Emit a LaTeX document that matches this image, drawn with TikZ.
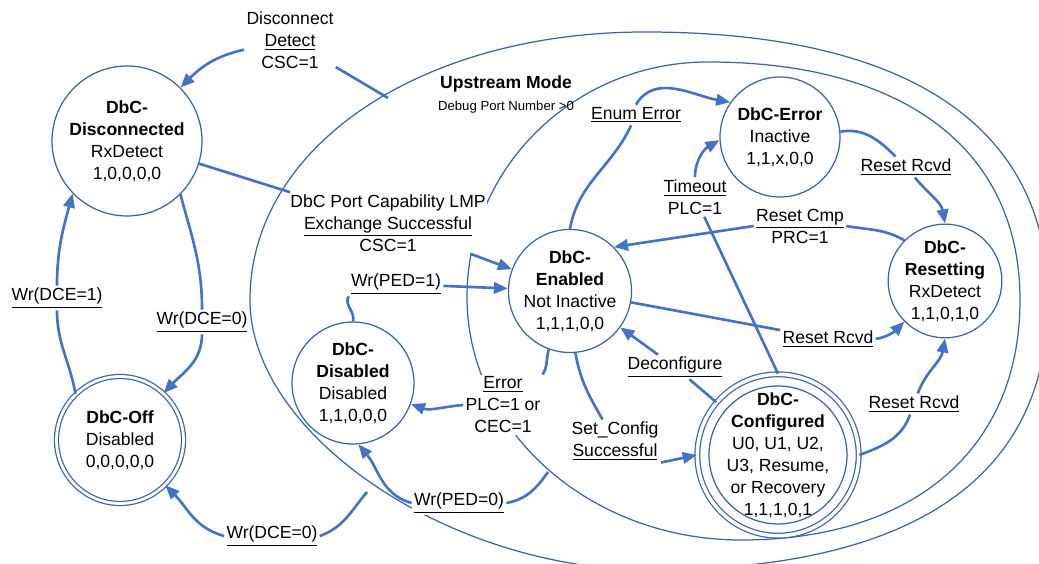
\documentclass[tikz,border=0pt]{standalone}
\usepackage{fontspec}
\setmainfont{Liberation Sans}
\usetikzlibrary{arrows.meta}
\definecolor{cline}{HTML}{3A65A5}
\definecolor{carrow}{HTML}{4472C4}
\tikzset{
  every picture/.style={line width=0.7pt},
  state/.style={circle, draw=cline, fill=white, align=center, inner sep=0pt, minimum size=#1},
  link/.style={draw=carrow, line width=1.5pt},
  arrow/.style={link, -{Triangle[length=8pt, width=6.5pt]}},
  lbl/.style={fill=white, inner sep=1pt, align=center},
}

\begin{document}
\begin{tikzpicture}[x=0.02cm, y=0.02cm,
  every node/.append style={font=\fontsize{10}{12.5}\selectfont},
  region/.style={draw=cline, line width=0.7pt}]
  \useasboundingbox (0,0) rectangle (1039,564);
  \draw[region] (645,532) .. controls (907,532) and (1048,438) .. (1048,264)
    .. controls (1048,86) and (913,-6) .. (650,-6)
    .. controls (450,-6) and (250,129) .. (250,264)
    .. controls (250,417) and (420,532) .. (645,532);
  \draw[region] (708,502) .. controls (905,502) and (1020,414) .. (1020,264)
    .. controls (1020,115) and (914,24) .. (741,24)
    .. controls (590,24) and (467,133) .. (467,267)
    .. controls (467,397) and (575,502) .. (708,502);
  \coordinate (upA) at (388,466);
  \coordinate (upB) at (367,72);
  \coordinate (inA) at (548,92);
  \node[font=\bfseries\fontsize{10}{12}\selectfont] (upTitle) at (506,480) {Upstream Mode};
  \node[font=\fontsize{7.5}{9}\selectfont] (upSub) at (506,457) {Debug Port Number >0};

  \node[state=3cm] (disc) at (127,423) {\textbf{DbC-}\\\textbf{Disconnected}\\RxDetect\\1,0,0,0,0};
  \node[state=2.54cm, double=white, double distance=1.6pt] (off) at (120,124) {\textbf{DbC-Off}\\Disabled\\0,0,0,0,0};
  \node[state=2.44cm] (dis) at (353,181) {\textbf{DbC-}\\\textbf{Disabled}\\Disabled\\1,1,0,0,0};
  \node[state=2.4cm] (enab) at (570,273) {\textbf{DbC-}\\\textbf{Enabled}\\Not Inactive\\1,1,1,0,0};
  \node[state=2.4cm] (err) at (780,427) {\textbf{DbC-Error}\\Inactive\\1,1,x,0,0};
  \node[state=2.08cm] (rst) at (945,283) {\textbf{DbC-}\\\textbf{Resetting}\\RxDetect\\1,1,0,1,0};
  \node[state=2.92cm, double=white, double distance=2pt] (cfg) at (778,109) {\textbf{DbC-}\\\textbf{Configured}\\U0, U1, U2,\\U3, Resume,\\or Recovery\\1,1,1,0,1};
  \draw[cline] (cfg.center) circle[radius=1.38cm];

  \node[lbl] (l1) at (290,524) {Disconnect\\\underline{Detect}\\CSC=1};
  \node[lbl] (l2) at (388,341) {DbC Port Capability LMP\\\underline{Exchange Successful}\\CSC=1};
  \node[lbl] (l6) at (503,159) {\underline{Error}\\PLC=1 or\\CEC=1};
  \node[lbl] (l10) at (695,367) {\underline{Timeout}\\PLC=1};
  \node[lbl] (l12) at (800,338) {\underline{Reset Cmp}\\PRC=1};
  \node[lbl] (l15) at (615,123) {Set\_Config\\\underline{Successful}};
  \foreach \nm/\x/\y/\txt in {l3/202/242/Wr(DCE=0), l4/57/266/Wr(DCE=1), l5/272/28/Wr(DCE=0),
      l7/396/280/Wr(PED=1), l8/459/61/Wr(PED=0), l9/636/449/Enum Error, l11/906/397/Reset Rcvd,
      l13/828/225/Reset Rcvd, l14/675/197/Deconfigure, l16/914/160/Reset Rcvd}
    \node[lbl] (\nm) at (\x,\y) {\underline{\txt}};

  \draw[link] (upA) -- (l1);
  \draw[arrow] (l1) to[out=192, in=45] (disc);
  \draw[link] (disc) -- (l2);
  \draw[arrow] (l2) -- (enab);
  \draw[link] (disc.-45) to[out=-75, in=90] (l3.north);
  \draw[arrow] (l3.south) to[out=-90, in=47] (off);
  \draw[link] (off.134) to[out=100, in=-90] (l4.south);
  \draw[arrow] (l4.north) to[out=90, in=255] (disc.224);
  \draw[link] (upB) to[out=-130, in=20] (l5.east);
  \draw[arrow] (l5.west) to[out=165, in=-45] (off);
  \draw[link] (enab.-110) to[out=-105, in=60] (l6.north east);
  \draw[arrow] (l6.west) to[out=185, in=-20] (dis);
  \draw[link] (dis.north) to[out=75, in=-120] (l7.south west);
  \draw[arrow] (l7) -- (enab);
  \draw[link] (inA) to[out=-125, in=10] (l8.east);
  \draw[arrow] (l8.west) to[out=165, in=-50] (dis.-85);
  \draw[link] (enab.north) to[out=80, in=-115] (l9);
  \draw[arrow] (l9.north) to[out=60, in=170] (err.145);
  \draw[link] (cfg.north) -- (l10);
  \draw[arrow] (l10.north) to[out=90, in=210] (err.183);
  \draw[link] (err.5) to[out=10, in=135] (l11);
  \draw[arrow] (l11) to[out=-50, in=100] (rst.north);
  \draw[link] (rst.135) to[out=150, in=-10] (l12.east);
  \draw[arrow] (l12.west) -- (enab.45);
  \draw[link] (enab) -- (l13);
  \draw[arrow] (l13.east) to[out=10, in=-135] (rst);
  \draw[link] (cfg) -- (l14);
  \draw[arrow] (l14) -- (enab);
  \draw[link] (enab.-85) to[out=-80, in=120] (l15);
  \draw[arrow] (l15.south east) -- (cfg.west);
  \draw[link] (cfg.east) to[out=20, in=-110] (l16);
  \draw[arrow] (l16) to[out=70, in=-100] (rst.south);
\end{tikzpicture}
\end{document}
